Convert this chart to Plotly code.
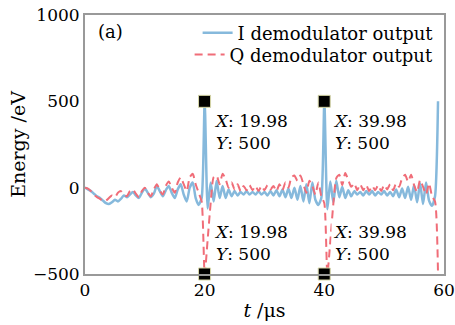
import numpy as np
import plotly.graph_objects as go

# time axis, 0.5 us sampling
t = [round(0.5 * i, 2) for i in range(121)]

# I demodulator output (eV)
i_out = [
    0, -10, -20, -35, -50, -60, -75, -90, -95, -85,
    -70, -80, -65, -45, -55, -40, -25, -45, -60, -30,
    -5, -30, -55, -35, 10, -20, -50, -15, 10, -30,
    -60, -10, 20, -40, -80, 0, 30, -60, -100, -60,
    500,
    -120, 30, -80, 40, -60, 10, -60, -10, -50, -20,
    -45, -25, -40, -20, -40, -25, -40, -20, -40, -25,
    -45, -20, -45, -15, -50, -10, -55, -5, -60, 0,
    -70, 10, -80, 20, -90, 30, -70, -100, -60, 500,
    -125, 35, -85, 40, -55, 5, -60, -15, -50, -20,
    -40, -25, -45, -20, -40, -20, -45, -25, -40, -20,
    -45, -25, -50, -10, -55, -5, -60, 5, -70, 15,
    -85, 25, -95, 30, -75, -105, -50, 500,
]

# Q demodulator output (eV)
q_out = [
    0, -5, -20, -40, -55, -65, -75, -75, -60, -45,
    -55, -30, -20, -40, -50, -20, -10, -35, -55, -20,
    0, -30, -50, -10, 20, -15, -40, 10, 35, 0,
    -30, 30, 60, 20, -20, 60, 80, 20, -30, -80,
    -500,
    -300, -90, 60, 70, 20, 80, 50, 0, 30, -10,
    20, -20, 10, -15, 15, -15, 10, -20, 10, -15,
    15, -10, 10, -20, 20, -15, 30, 0, 60, 70,
    40, 70, 20, -30, 40, 10, -40, 30, -50, -90, -500,
    -310, -95, 55, 75, 15, 85, 45, 5, 25, -15,
    20, -15, 15, -20, 10, -15, 15, -20, 15, -10,
    20, -15, 25, 5, 55, 75, 35, 75, 15, -25,
    45, 5, -40, 25, -50, -80, -500,
]

mark_x = [19.98, 39.98, 19.98, 39.98]
mark_y = [500, 500, -500, -500]
tip_x = ["19.98", "39.98", "19.98", "39.98"]
tip_y = ["500", "500", "500", "500"]

FONT = "DejaVu Serif"
FS = 17

fig = go.Figure()
fig.add_trace(go.Scatter(x=t, y=i_out, mode="lines", name="I demodulator output",
                         legend="legend",
                         line=dict(color="#86b9dc", width=2.5, shape="spline", smoothing=0.6)))
fig.add_trace(go.Scatter(x=t, y=q_out, mode="lines", name="Q demodulator output",
                         legend="legend2",
                         line=dict(color="#f06d78", width=2, dash="8px,5px",
                                   shape="spline", smoothing=0.6)))

# data tips
for k in range(4):
    top = mark_y[k] > 0
    fig.add_annotation(
        x=mark_x[k], y=mark_y[k], xref="x", yref="y",
        text=f"<i>X</i>: {tip_x[k]}<br><i>Y</i>: {tip_y[k]}",
        showarrow=False, xanchor="left", yanchor="top" if top else "bottom",
        xshift=7, yshift=-8 if top else 8,
        align="left", bgcolor="white", borderpad=1,
        font=dict(family=FONT, size=FS, color="black"),
    )

fig.add_trace(go.Scatter(x=mark_x, y=mark_y, mode="markers", showlegend=False,
                         marker=dict(symbol="square", size=12, color="black",
                                     line=dict(color="#d8d8a8", width=1)),
                         cliponaxis=False))

fig.add_annotation(x=0.03, y=0.935, xref="paper", yref="paper", text="(a)",
                   showarrow=False, xanchor="left", yanchor="middle",
                   font=dict(family=FONT, size=18, color="black"))

axis_common = dict(showline=True, linecolor="#999999", linewidth=2, mirror=True,
                   showgrid=False, zeroline=False, ticks="",
                   ticklabeloverflow="allow",
                   tickfont=dict(family=FONT, size=FS, color="black"))

fig.update_xaxes(range=[0, 60], tickvals=[0, 20, 40, 60], **axis_common,
                 title=dict(text="<i>t</i> /μs", font=dict(family=FONT, size=19, color="black"),
                            standoff=4))
fig.update_yaxes(range=[-500, 1000], tickvals=[-500, 0, 500, 1000],
                 ticktext=["−500", "0", "500", "1000"], **axis_common,
                 title=dict(text="Energy /eV", font=dict(family=FONT, size=19, color="black"),
                            standoff=2))

leg_common = dict(xanchor="right", yanchor="middle", x=0.985,
                  bgcolor="rgba(0,0,0,0)", borderwidth=0,
                  font=dict(family=FONT, size=18, color="black"), itemwidth=30)

fig.update_layout(
    width=455, height=325,
    margin=dict(l=85, r=11, t=15, b=51, autoexpand=False),
    paper_bgcolor="white", plot_bgcolor="white",
    legend=dict(y=0.930, **leg_common),
    legend2=dict(y=0.846, **leg_common),
    showlegend=True,
)

fig.write_html("out.html")
